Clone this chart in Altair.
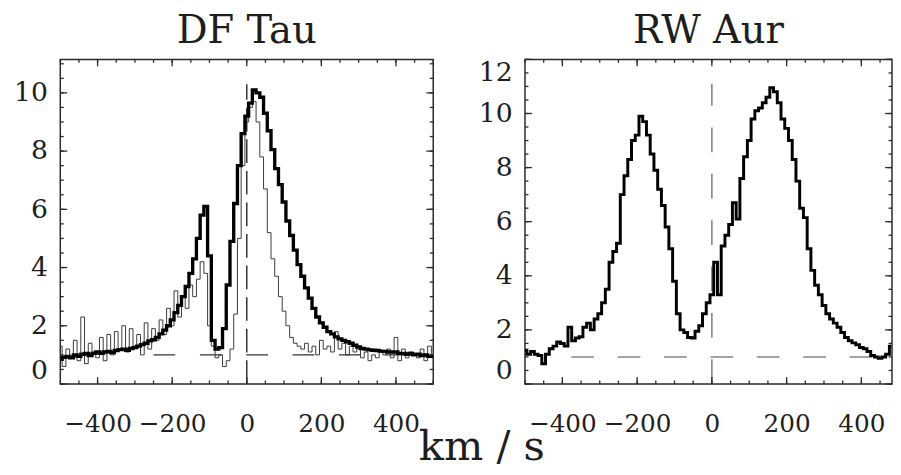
import altair as alt
import pandas as pd

# ---------------- data ----------------
V_DF = list(range(-500, 501, 10))
DF_THICK = [0.85, 0.92, 0.95, 0.9, 1.0, 0.95, 1.02, 1.05, 0.98, 1.05,
            1.1, 1.05, 1.1, 1.12, 1.08, 1.15, 1.18, 1.2, 1.16, 1.22,
            1.25, 1.3, 1.35, 1.4, 1.48, 1.52, 1.6, 1.72, 1.85, 2.0,
            2.2, 2.45, 2.7, 3.0, 3.35, 3.8, 4.3, 5.0, 5.8, 6.1,
            4.4, 1.5, 1.2, 1.25, 1.9, 3.4, 4.9, 6.2, 7.5, 8.6,
            9.2, 9.65, 10.1, 10.0, 9.85, 9.3, 8.7, 8.05, 7.4, 6.85,
            6.25, 5.6, 5.1, 4.6, 4.1, 3.7, 3.3, 2.95, 2.6, 2.3,
            2.1, 1.95, 1.8, 1.72, 1.62, 1.55, 1.5, 1.45, 1.4, 1.33,
            1.27, 1.22, 1.2, 1.17, 1.16, 1.15, 1.13, 1.12, 1.1, 1.1,
            1.1, 1.05, 1.05, 1.02, 1.05, 1.0, 1.02, 0.98, 1.0, 0.95,
            0.95]
DF_THIN = [1.3, 0.6, 1.2, 0.9, 1.5, 0.8, 2.3, 0.7, 1.4, 1.1,
           0.9, 1.6, 0.8, 1.7, 1.0, 1.8, 1.2, 2.0, 1.1, 1.9,
           1.3, 1.7, 1.0, 2.1, 1.2, 1.9, 1.5, 2.2, 1.7, 2.6,
           2.0, 3.2, 2.3, 3.0, 2.6, 3.4, 3.0, 3.6, 4.2, 3.8,
           2.0, 1.3, 0.9, 1.0, 0.6, 0.8, 1.2, 2.4, 5.0, 7.5,
           9.0, 9.5, 9.7, 9.0, 7.8, 6.7, 5.2, 4.3, 3.7, 3.0,
           2.5, 2.0, 1.6, 1.4, 1.3, 1.2, 1.4, 1.1, 1.3, 1.0,
           1.5, 1.2, 1.3, 1.1, 1.8, 1.2, 1.4, 1.0, 1.3, 1.1,
           1.2, 0.9, 1.1, 0.8, 1.0, 0.9, 1.1, 1.0, 1.2, 0.9,
           1.6, 0.8, 1.2, 0.9, 1.1, 1.0, 0.9, 1.2, 0.8, 1.3,
           0.9]
V_RW = list(range(-500, 481, 10))
RW_FLUX = [1.25, 1.1, 1.2, 1.1, 1.05, 0.75, 1.1, 1.3, 1.4, 1.55,
           1.5, 1.4, 2.1, 1.6, 1.7, 1.75, 2.1, 2.25, 2.0, 2.4,
           2.6, 3.0, 3.5, 4.5, 4.9, 5.2, 7.0, 7.7, 8.3, 9.0,
           9.2, 9.9, 9.7, 9.2, 8.5, 7.9, 7.2, 6.6, 5.8, 5.0,
           3.8, 2.6, 2.0, 1.9, 1.72, 1.7, 1.95, 2.15, 2.6, 3.0,
           3.3, 4.5, 3.3, 5.1, 5.5, 5.9, 6.7, 6.1, 7.6, 8.4,
           9.0, 9.8, 10.1, 10.2, 10.4, 10.6, 10.95, 10.8, 10.4, 9.8,
           9.45, 9.0, 8.3, 7.5, 6.5, 6.15, 5.0, 4.2, 3.65, 3.3,
           2.9, 2.6, 2.4, 2.25, 2.1, 1.9, 1.72, 1.6, 1.52, 1.45,
           1.35, 1.3, 1.2, 1.05, 1.0, 0.95, 1.0, 1.1, 1.4]

X_LABELS = [-400, -200, 0, 200, 400]
X_MAJOR = [-400, -200, 0, 200, 400]
X_MINOR = list(range(-500, 501, 50))
DF_Y_LABELS = [0, 2, 4, 6, 8, 10]
RW_Y_LABELS = [0, 2, 4, 6, 8, 10, 12]
DF_Y_MAJOR = [0, 2, 4, 6, 8, 10]
RW_Y_MAJOR = [0, 2, 4, 6, 8, 10, 12]
DF_Y_MINOR = [i / 2 for i in range(0, 23)]
RW_Y_MINOR = [i / 2 for i in range(0, 25)]

# ---------------- style ----------------
W1, W2, H = 378, 372, 329
MAJ, MIN = 7, 3.5
FRAME = "#2a2a2a"
TXT = "#1e1e1e"
LABEL_FONT = "DejaVu Serif"
TITLE_FONT = "DejaVu Serif"


def X(dom, axis=alt.Undefined):
    return alt.X("v:Q", scale=alt.Scale(domain=dom, nice=False, zero=False), axis=axis)


def Y(dom, axis=alt.Undefined):
    return alt.Y("f:Q", scale=alt.Scale(domain=dom, nice=False, zero=False), axis=axis)


def tick_layers(xdom, ydom, W, ymajor, yminor):
    layers = []
    for vals, L in ((X_MAJOR, MAJ), (X_MINOR, MIN)):
        base = alt.Chart(pd.DataFrame({"v": vals})).mark_rule(color=FRAME, strokeWidth=1.3)
        layers.append(base.encode(x=X(xdom), y=alt.value(H), y2=alt.value(H - L)))
        layers.append(base.encode(x=X(xdom), y=alt.value(0), y2=alt.value(L)))
    for vals, L in ((ymajor, MAJ), (yminor, MIN)):
        base = alt.Chart(pd.DataFrame({"f": vals})).mark_rule(color=FRAME, strokeWidth=1.3)
        layers.append(base.encode(y=Y(ydom), x=alt.value(0), x2=alt.value(L)))
        layers.append(base.encode(y=Y(ydom), x=alt.value(W), x2=alt.value(W - L)))
    return layers


def axes(ylabels):
    xa = alt.Axis(values=X_LABELS, ticks=False, domain=False, grid=False, title=None,
                  labelFont=LABEL_FONT, labelFontSize=25, labelPadding=28, labelColor=TXT,
                  labelFlush=True)
    ya = alt.Axis(values=ylabels, ticks=False, domain=False, grid=False, title=None,
                  labelFont=LABEL_FONT, labelFontSize=27, labelPadding=13, labelColor=TXT,
                  labelFlush=True, minExtent=52, maxExtent=52)
    return xa, ya


def title(t):
    return alt.Title(t, font=TITLE_FONT, fontSize=39, fontWeight="normal", color=TXT,
                     anchor="middle", offset=8)


# ---------------- left panel : DF Tau ----------------
xdom1, ydom1 = [-500, 500], [0, 11.15]
xa1, ya1 = axes(DF_Y_LABELS)
df_df = pd.DataFrame({"v": V_DF, "thick": DF_THICK, "thin": DF_THIN})

thin1 = alt.Chart(df_df).transform_calculate(f="datum.thin").mark_line(
    interpolate="step", color="#3a3a3a", strokeWidth=1, clip=True
).encode(x=X(xdom1, xa1), y=Y(ydom1, ya1))
hdash1 = alt.Chart(pd.DataFrame({"v": [-250], "v2": [500], "f": [1.0]})).mark_rule(
    color="#333", strokeWidth=1.5, strokeDash=[22, 25], clip=True
).encode(x=X(xdom1), x2="v2:Q", y=Y(ydom1))
vdash1 = alt.Chart(pd.DataFrame({"v": [0], "f": [0.0], "f2": [10.3]})).mark_rule(
    color="#333", strokeWidth=1.5, strokeDash=[24, 8]
).encode(x=X(xdom1), y=Y(ydom1), y2="f2:Q")
thick1 = alt.Chart(df_df).transform_calculate(f="datum.thick").mark_line(
    interpolate="step", color="black", strokeWidth=3.4, clip=True
).encode(x=X(xdom1), y=Y(ydom1))

left = alt.layer(thin1, hdash1, vdash1, thick1,
                 *tick_layers(xdom1, ydom1, W1, DF_Y_MAJOR, DF_Y_MINOR)
                 ).properties(width=W1, height=H, title=title("DF Tau"))

# ---------------- right panel : RW Aur ----------------
xdom2, ydom2 = [-500, 482], [0, 12]
xa2, ya2 = axes(RW_Y_LABELS)
df_rw = pd.DataFrame({"v": V_RW, "f": RW_FLUX})

hdash2 = alt.Chart(pd.DataFrame({"v": [-376], "v2": [482], "f": [1.0]})).mark_rule(
    color="#858585", strokeWidth=1.6, strokeDash=[23, 24], clip=True
).encode(x=X(xdom2, xa2), x2="v2:Q", y=Y(ydom2, ya2))
vdash2 = alt.Chart(pd.DataFrame({"v": [0], "f": [0.0], "f2": [11.1]})).mark_rule(
    color="#858585", strokeWidth=1.6, strokeDash=[25, 22]
).encode(x=X(xdom2), y=Y(ydom2), y2="f2:Q")
line2 = alt.Chart(df_rw).mark_line(
    interpolate="step", color="black", strokeWidth=3.0, clip=True
).encode(x=X(xdom2), y=Y(ydom2))

right = alt.layer(hdash2, vdash2, line2,
                  *tick_layers(xdom2, ydom2, W2, RW_Y_MAJOR, RW_Y_MINOR)
                  ).properties(width=W2, height=H, title=title("RW Aur"))

chart = alt.hconcat(left, right, spacing=38).properties(
    title=alt.Title("km / s", orient="bottom", font=TITLE_FONT, fontSize=42,
                    fontWeight="normal", color=TXT, anchor="middle", dx=28, offset=-10),
    padding={"left": 0, "top": 0, "right": -8, "bottom": -7},
).configure_view(stroke=FRAME, strokeWidth=1.5)

chart.save("out.html", embed_options={"renderer": "svg", "actions": False})
